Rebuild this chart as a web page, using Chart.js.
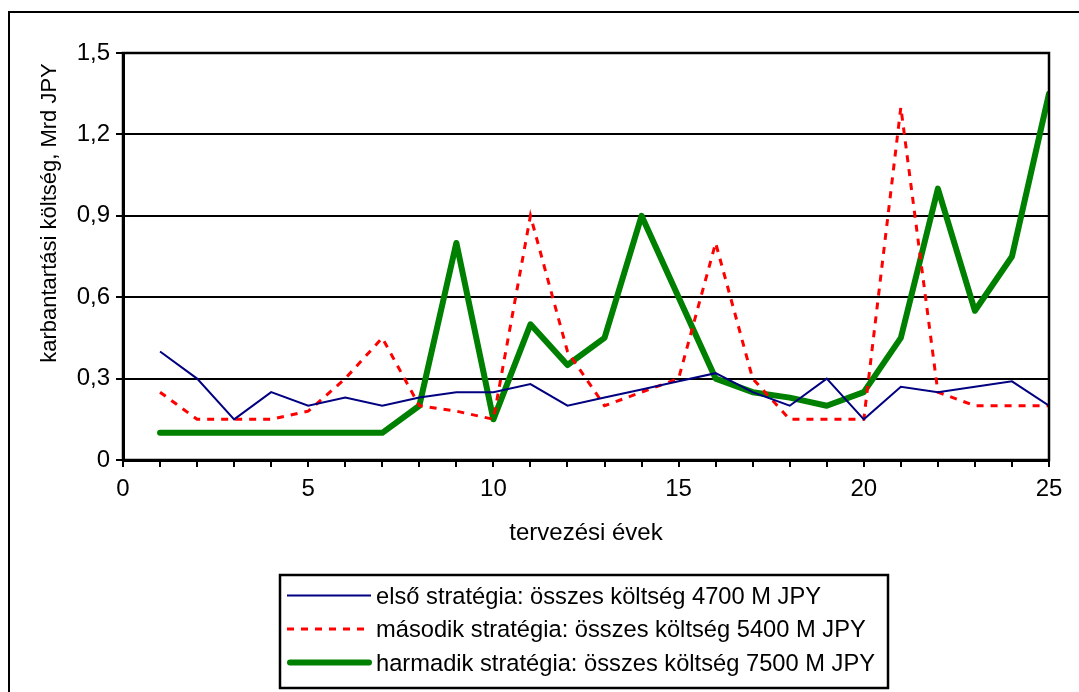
<!DOCTYPE html>
<html>
<head>
<meta charset="utf-8">
<script src="https://cdn.jsdelivr.net/npm/chart.js@4.4.1/dist/chart.umd.min.js"></script>
<style>
  html, body { margin: 0; padding: 0; background: #fff; }
  canvas { display: block; }
</style>
</head>
<body>
<canvas id="myChart" width="1079" height="692"></canvas>
<script>
// tervezési évek
const evek = [1, 2, 3, 4, 5, 6, 7, 8, 9, 10, 11, 12, 13, 14, 15, 16, 17, 18, 19, 20, 21, 22, 23, 24, 25];

// karbantartási költség, Mrd JPY
const elso = [0.40, 0.30, 0.15, 0.25, 0.20, 0.23, 0.20, 0.23, 0.25, 0.25, 0.28, 0.20, 0.23, 0.26, 0.29, 0.32, 0.25, 0.20, 0.30, 0.15, 0.27, 0.25, 0.27, 0.29, 0.20];
const masodik = [0.25, 0.15, 0.15, 0.15, 0.18, 0.30, 0.45, 0.20, 0.18, 0.15, 0.90, 0.40, 0.20, 0.25, 0.30, 0.80, 0.30, 0.15, 0.15, 0.15, 1.30, 0.25, 0.20, 0.20, 0.20];
const harmadik = [0.10, 0.10, 0.10, 0.10, 0.10, 0.10, 0.10, 0.20, 0.80, 0.15, 0.50, 0.35, 0.45, 0.90, 0.60, 0.30, 0.25, 0.23, 0.20, 0.25, 0.45, 1.00, 0.55, 0.75, 1.35];

const nevek = [
  'első stratégia: összes költség 4700 M JPY',
  'második stratégia: összes költség 5400 M JPY',
  'harmadik stratégia: összes költség 7500 M JPY'
];

const xTicks = [0, 1, 2, 3, 4, 5, 6, 7, 8, 9, 10, 11, 12, 13, 14, 15, 16, 17, 18, 19, 20, 21, 22, 23, 24, 25];
const yTicks = [0, 0.3, 0.6, 0.9, 1.2, 1.5];

const FONT = '"Liberation Sans", Arial, sans-serif';

function pontok(ertekek) {
  return ertekek.map(function (v, i) { return { x: evek[i], y: v }; });
}

// keret, tengelycím és jelmagyarázat
const rajzok = {
  id: 'rajzok',
  afterDraw(chart) {
    const ctx = chart.ctx;
    const a = chart.chartArea;
    ctx.save();

    ctx.strokeStyle = '#000';
    ctx.lineWidth = 2;
    ctx.setLineDash([]);
    ctx.strokeRect(9, 12, 1100, 700);
    ctx.lineWidth = 2.5;
    ctx.strokeRect(a.left, a.top, a.right - a.left, a.bottom - a.top);

    // függőleges tengelycím
    ctx.save();
    ctx.translate(56, 213);
    ctx.rotate(-Math.PI / 2);
    ctx.fillStyle = '#000';
    ctx.font = '22px ' + FONT;
    ctx.textAlign = 'center';
    ctx.textBaseline = 'alphabetic';
    ctx.fillText('karbantartási költség, Mrd JPY', 0, 0);
    ctx.restore();

    // jelmagyarázat
    ctx.lineWidth = 2.5;
    ctx.strokeStyle = '#000';
    ctx.strokeRect(280, 575, 608, 113);
    ctx.font = '23.7px ' + FONT;
    ctx.textAlign = 'left';
    ctx.textBaseline = 'alphabetic';
    chart.data.datasets.forEach(function (ds, i) {
      const base = 603.5 + i * 33.5;
      const ly = base - 8;
      ctx.save();
      ctx.strokeStyle = ds.borderColor;
      ctx.lineWidth = ds.borderWidth;
      ctx.lineCap = ds.borderCapStyle || 'butt';
      ctx.setLineDash(ds.borderDash || []);
      ctx.beginPath();
      ctx.moveTo(ds.borderCapStyle === 'round' ? 290 : 287, ly);
      ctx.lineTo(ds.borderCapStyle === 'round' ? 369 : 371, ly);
      ctx.stroke();
      ctx.restore();
      ctx.fillStyle = '#000';
      ctx.fillText(ds.label, 376, base);
    });

    ctx.restore();
  }
};

const data = {
  datasets: [
    {
      label: nevek[0],
      data: pontok(elso),
      borderColor: '#000080',
      borderWidth: 2,
      pointRadius: 0,
      tension: 0
    },
    {
      label: nevek[1],
      data: pontok(masodik),
      borderColor: '#ff0000',
      borderWidth: 3,
      borderDash: [7, 7],
      pointRadius: 0,
      tension: 0
    },
    {
      label: nevek[2],
      data: pontok(harmadik),
      borderColor: '#008000',
      borderWidth: 6,
      borderCapStyle: 'round',
      borderJoinStyle: 'round',
      pointRadius: 0,
      tension: 0
    }
  ]
};

const config = {
  type: 'line',
  data: data,
  plugins: [rajzok],
  options: {
    responsive: false,
    animation: false,
    devicePixelRatio: 1,
    layout: { padding: { left: 0, top: 53, right: 30, bottom: 144 } },
    plugins: {
      legend: { display: false },
      tooltip: { enabled: false }
    },
    scales: {
      x: {
        type: 'linear',
        min: 0,
        max: 25,
        afterBuildTicks: function (scale) {
          scale.ticks = xTicks.map(function (v) { return { value: v }; });
        },
        afterFit: function (scale) { scale.height = 88; },
        grid: {
          drawOnChartArea: false,
          drawTicks: true,
          tickLength: 7,
          color: '#000',
          lineWidth: 2
        },
        border: { display: true, color: '#000', width: 3 },
        ticks: {
          autoSkip: false,
          maxRotation: 0,
          padding: 8,
          color: '#000',
          font: { family: FONT, size: 24 },
          callback: function (v) { return v % 5 === 0 ? String(v) : ''; }
        },
        title: {
          display: true,
          text: 'tervezési évek',
          color: '#000',
          padding: 0,
          font: { family: FONT, size: 24 }
        }
      },
      y: {
        min: 0,
        max: 1.5,
        afterBuildTicks: function (scale) {
          scale.ticks = yTicks.map(function (v) { return { value: v }; });
        },
        afterFit: function (scale) { scale.width = 123; },
        grid: {
          drawTicks: true,
          tickLength: 7,
          color: '#000',
          lineWidth: 2
        },
        border: { display: true, color: '#000', width: 3 },
        ticks: {
          padding: 6,
          color: '#000',
          font: { family: FONT, size: 24 },
          callback: function (v) { return v === 0 ? '0' : v.toFixed(1).replace('.', ','); }
        }
      }
    }
  }
};

const myChart = new Chart(document.getElementById('myChart'), config);
</script>
</body>
</html>
